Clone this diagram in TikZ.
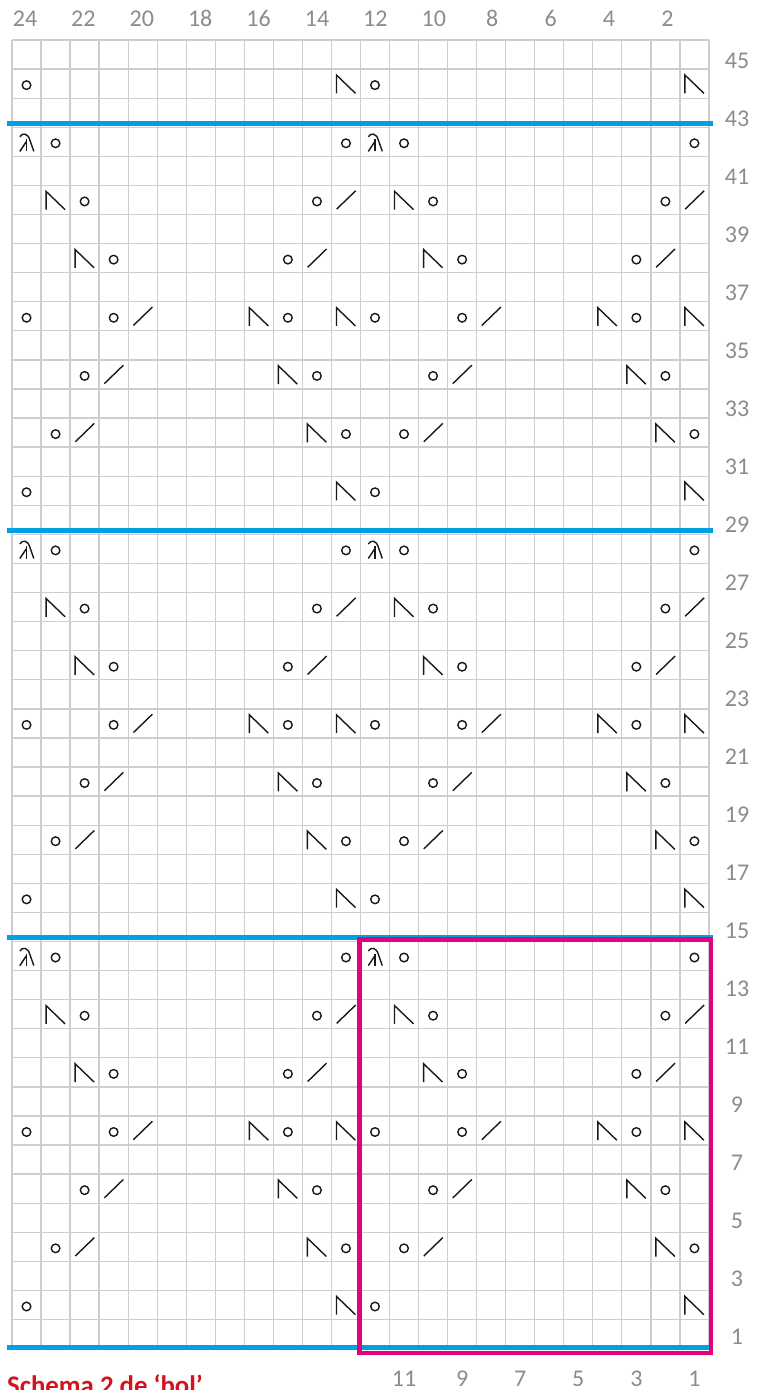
\documentclass[tikz,border=0pt]{standalone}
\usepackage{fontspec}
\setmainfont{Carlito}
\definecolor{gridgray}{RGB}{206,206,206}
\definecolor{labgray}{RGB}{140,140,140}
\definecolor{chartblue}{RGB}{0,160,227}
\definecolor{chartpink}{RGB}{230,0,126}
\definecolor{titlered}{RGB}{210,20,30}
\tikzset{
  gridline/.style={draw=gridgray,line width=1.3pt},
  blueline/.style={draw=chartblue,line width=5pt},
  pinkbox/.style={draw=chartpink,line width=4.5pt},
  symline/.style={draw=black!90,line width=1.4pt},
  lab/.style={text=labgray,font=\fontsize{24}{24}\selectfont,inner sep=0pt,anchor=base},
  titlelab/.style={text=titlered,font=\fontsize{26.8}{27}\selectfont\bfseries,inner sep=0pt,anchor=base west}
}
\newcommand\symyo[2]{\draw[symline] ({12+(24-#1+0.5)*29.04},{40+(45-#2+0.5)*29.08+1.5}) circle[radius=4.3pt];}
\newcommand\symssk[2]{\begin{scope}[shift={({12+(24-#1+0.5)*29.04},{40+(45-#2+0.5)*29.08})}]
  \draw[symline] (-9.5,9.7) -- (-9.5,-8.6) -- (9.5,9.7);\end{scope}}
\newcommand\symtog[2]{\begin{scope}[shift={({12+(24-#1+0.5)*29.04},{40+(45-#2+0.5)*29.08})}]
  \draw[symline] (-9.3,9.2) -- (9.7,-9.2);\end{scope}}
\newcommand\symcdd[2]{\begin{scope}[shift={({12+(24-#1+0.5)*29.04},{40+(45-#2+0.5)*29.08})}]
  \draw[symline] (-6.7,-5) .. controls (-4,-9.5) and (1.5,-8.5) .. (3.3,-1.8) -- (7.3,9.6);
  \draw[symline] (0,-2.5) -- (0,9.6);
  \draw[symline] (-0.3,0) -- (-6.7,9.6);\end{scope}}
\begin{document}
\begin{tikzpicture}[x=1pt,y=-1pt]
\useasboundingbox (0,0) rectangle (765,1390);
\fill[white] (0,0) rectangle (765,1390);
% grid
\foreach \i in {0,...,24}
  \draw[gridline] ({12+\i*29.04},40) -- ({12+\i*29.04},{40+45*29.08});
\foreach \j in {0,...,45}
  \draw[gridline] (12,{40+\j*29.08}) -- ({12+24*29.04},{40+\j*29.08});
% symbols
\foreach \b in {0,14,28}{
  \foreach \t/\c/\d in {yo/24/2, ssk/13/2, yo/12/2, ssk/1/2,
    yo/23/4, tog/22/4, ssk/14/4, yo/13/4, yo/11/4, tog/10/4, ssk/2/4, yo/1/4,
    yo/22/6, tog/21/6, ssk/15/6, yo/14/6, yo/10/6, tog/9/6, ssk/3/6, yo/2/6,
    yo/24/8, yo/21/8, tog/20/8, ssk/16/8, yo/15/8, ssk/13/8, yo/12/8, yo/9/8, tog/8/8, ssk/4/8, yo/3/8, ssk/1/8,
    ssk/22/10, yo/21/10, yo/15/10, tog/14/10, ssk/10/10, yo/9/10, yo/3/10, tog/2/10,
    ssk/23/12, yo/22/12, yo/14/12, tog/13/12, ssk/11/12, yo/10/12, yo/2/12, tog/1/12,
    cdd/24/14, yo/23/14, yo/13/14, cdd/12/14, yo/11/14, yo/1/14}{
    \pgfmathtruncatemacro\rr{\b+\d}
    \csname sym\t\endcsname{\c}{\rr}
  }
}
\foreach \t/\c in {yo/24, ssk/13, yo/12, ssk/1}{
  \csname sym\t\endcsname{\c}{44}
}
% blue separators
\draw[blueline] (7,{40+3*29.08-4}) -- (713,{40+3*29.08-4});
\draw[blueline] (7,{40+17*29.08-4}) -- (713,{40+17*29.08-4});
\draw[blueline] (7,{40+31*29.08-4}) -- (713,{40+31*29.08-4});
\draw[blueline] (7,1347.5) -- (713,1347.5);
% pink box
\draw[pinkbox] (359.5,939.7) rectangle (710.8,1353);
% labels
\foreach \c in {24,22,...,2}
  \node[lab] (top\c) at ({25+(24-\c)*29.2},26.8) {\c};
\foreach \r in {1,3,...,45}
  \node[lab] (row\r) at (737,{1344-(\r-1)/2*57.99}) {\r};
\foreach \c in {1,3,...,11}
  \node[lab] (bot\c) at ({12+(24-\c+0.5)*29.04},1386) {\c};
\node[titlelab] (title) at (7,1394) {Schema 2 de ‘bol’};
\end{tikzpicture}
\end{document}
